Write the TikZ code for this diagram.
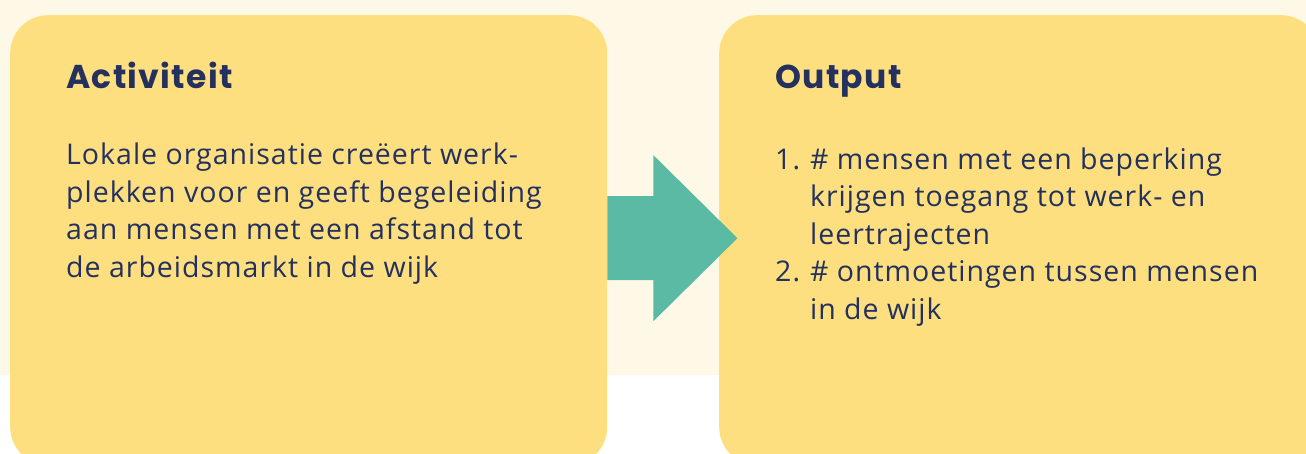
\documentclass[tikz,border=0pt]{standalone}
\usepackage{fontspec}
\setmainfont{Open Sans}[LetterSpace=3.5]
\newfontfamily\headfont{Poppins}[LetterSpace=4]
\definecolor{cream}{HTML}{FEF8E7}
\definecolor{sand}{HTML}{FDDF80}
\definecolor{mint}{HTML}{5ABAA4}
\definecolor{navy}{HTML}{24305E}

\begin{document}
\begin{tikzpicture}[x=1pt, y=-1pt,
   card/.style = {fill=sand, rounded corners=38pt, anchor=north west, minimum width=#1, minimum height=450pt, inner sep=0pt},
   head/.style = {anchor=base west, inner sep=0pt, text=navy, font=\headfont\bfseries\fontsize{33}{36}\selectfont},
   body/.style = {anchor=north west, inner sep=0pt, text=navy, align=left, font=\fontsize{28.5}{37.5}\selectfont}]
   \useasboundingbox (0,0) rectangle (1306,454);
   \fill[cream] (0,0) rectangle (1306,375);

   \node (act)[card=597pt] at (10,15) {};
   \node (out)[card=600pt] at (719,15) {};

   \node (acthead)[head] at ([shift={(56,74)}]act.north west) {Activiteit};
   \node (outhead)[head] at ([shift={(56,74)}]out.north west) {Output};

   \node (acttext)[body] at ([shift={(56,128)}]act.north west)
      {Lokale organisatie creëert werk-\\ plekken voor en geeft begeleiding\\ aan mensen met een afstand tot\\ de arbeidsmarkt in de wijk};
   \node (outtext)[body] at ([shift={(56,128)}]out.north west)
      {\begin{tabular}{@{}l@{\hspace{10pt}}l@{}}
         1. & \# mensen met een beperking\\
            & krijgen toegang tot werk- en\\
            & leertrajecten\\
         2. & \# ontmoetingen tussen mensen\\
            & in de wijk
      \end{tabular}};

   \fill[mint] ([shift={(0,-44)}]act.east) -- ++(46,0) -- ++(0,-41) -- ++(84,83)
      -- ++(-84,83) -- ++(0,-41) -- ++(-46,0) -- cycle;
\end{tikzpicture}
\end{document}
